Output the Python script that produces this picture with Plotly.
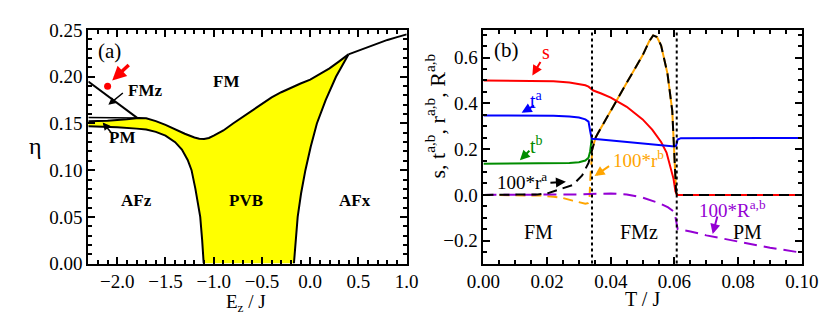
import plotly.graph_objects as go
import numpy as np

# ---------------- Panel (a) data ----------------
fm_pvb_ez = [-2.3, -2.1, -1.9, -1.78, -1.7, -1.6, -1.5, -1.4, -1.3, -1.2, -1.15, -1.1, -1.05, -1.0, -0.9,
             -0.8, -0.7, -0.6, -0.5, -0.4, -0.3, -0.2, -0.1, 0.0, 0.1, 0.2, 0.3, 0.396]
fm_pvb_eta = [0.1525, 0.153, 0.1545, 0.1558, 0.1555, 0.1525, 0.1485, 0.1435, 0.139, 0.135, 0.1337, 0.1335,
              0.1345, 0.137, 0.1425, 0.150, 0.157, 0.164, 0.171, 0.178, 0.1835, 0.1885, 0.1928, 0.197,
              0.203, 0.209, 0.2165, 0.224]
fm_afx_ez = [0.396, 0.5, 0.6, 0.7, 0.8, 0.9, 1.0]
fm_afx_eta = [0.224, 0.228, 0.232, 0.236, 0.2395, 0.2425, 0.2455]
pvb_afx_eta = [0.0, 0.025, 0.05, 0.075, 0.1, 0.125, 0.15, 0.175, 0.2, 0.224]
pvb_afx_ez = [-0.169, -0.152, -0.13, -0.095, -0.05, 0.005, 0.069, 0.16, 0.267, 0.396]
afz_pvb_ez = [-2.3, -2.0, -1.8, -1.7, -1.6, -1.5, -1.4, -1.33, -1.27, -1.23, -1.19, -1.14, -1.12, -1.104]
afz_pvb_eta = [0.147, 0.146, 0.1445, 0.1435, 0.141, 0.137, 0.130, 0.122, 0.111, 0.100, 0.080, 0.050, 0.025, 0.0]
fmz_ez = [-2.3, -2.1, -1.9, -1.79]
fmz_eta = [0.195, 0.1797, 0.164, 0.1558]
fm_pm_ez = [-2.3, -2.0, -1.79]
fm_pm_eta = [0.1565, 0.1565, 0.1558]
marker_ez = [-2.10]
marker_eta = [0.190]

# ---------------- Panel (b) data ----------------
T_s = [0, 0.015, 0.022, 0.027, 0.03, 0.032, 0.033, 0.0338, 0.0345, 0.037, 0.04, 0.045, 0.05, 0.053,
       0.0558, 0.0575, 0.0588, 0.0597, 0.0603, 0.0608, 0.1]
s_vals = [0.5, 0.5, 0.497, 0.491, 0.485, 0.479, 0.473, 0.462, 0.456, 0.443, 0.425, 0.385, 0.33, 0.285,
          0.231, 0.185, 0.122, 0.07, 0.015, 0.0, 0.0]
T_ta = [0, 0.015, 0.022, 0.027, 0.03, 0.032, 0.033, 0.0335, 0.034, 0.036, 0.04, 0.045, 0.05, 0.055,
        0.06, 0.0605, 0.061, 0.062, 0.07, 0.08, 0.09, 0.1]
ta_vals = [0.347, 0.347, 0.346, 0.343, 0.338, 0.33, 0.32, 0.28, 0.245, 0.243, 0.238, 0.232, 0.226, 0.219,
           0.212, 0.215, 0.242, 0.248, 0.249, 0.249, 0.249, 0.249]
T_tb = [0, 0.015, 0.022, 0.027, 0.03, 0.032, 0.033, 0.0335, 0.034]
tb_vals = [0.136, 0.136, 0.137, 0.139, 0.143, 0.150, 0.162, 0.19, 0.245]
T_ra = [0, 0.012, 0.017, 0.02, 0.025, 0.028, 0.031, 0.033, 0.0338, 0.0352, 0.036, 0.04, 0.045, 0.05,
        0.052, 0.0533, 0.0545, 0.0558, 0.0578, 0.0593, 0.0601, 0.0605, 0.0608, 0.1]
ra_vals = [0, 0, 0.002, 0.006, 0.028, 0.043, 0.085, 0.14, 0.18, 0.25, 0.27, 0.37, 0.49, 0.61,
           0.67, 0.697, 0.69, 0.653, 0.53, 0.367, 0.163, 0.013, 0.0, 0.0]
T_rb_fm = [0, 0.012, 0.018, 0.022, 0.025, 0.028, 0.03, 0.031, 0.032, 0.0328, 0.0333, 0.0336, 0.0342]
rb_fm_vals = [0, 0, -0.003, -0.008, -0.014, -0.025, -0.033, -0.037, -0.039, -0.036, -0.02, 0.08, 0.2]
T_R = [0, 0.02, 0.03, 0.0335, 0.036, 0.04, 0.045, 0.05, 0.055, 0.058, 0.06, 0.0605, 0.061, 0.065,
       0.07, 0.08, 0.09, 0.1]
R_vals = [0, 0, 0.002, 0.004, 0.006, 0.006, 0.002, -0.012, -0.035, -0.055, -0.075, -0.11, -0.15, -0.16,
          -0.177, -0.204, -0.231, -0.253]
T_transitions = [0.0341, 0.0607]

FONT = "'Liberation Serif', 'Times New Roman', Tinos, 'DejaVu Serif', 'Noto Serif', serif"
fig = go.Figure()

# --- panel (a) ---
poly_x = fm_pvb_ez + pvb_afx_ez[::-1] + afz_pvb_ez[::-1]
poly_y = fm_pvb_eta + pvb_afx_eta[::-1] + afz_pvb_eta[::-1]
fig.add_trace(go.Scatter(x=poly_x, y=poly_y, fill="toself", fillcolor="#ffff00", mode="none",
                         xaxis="x", yaxis="y", hoverinfo="skip"))
for xs, ys, w in [(fm_pvb_ez, fm_pvb_eta, 2), (fm_afx_ez, fm_afx_eta, 2), (pvb_afx_ez, pvb_afx_eta, 2),
                  (afz_pvb_ez, afz_pvb_eta, 2), (fmz_ez, fmz_eta, 2), (fm_pm_ez, fm_pm_eta, 1.5)]:
    fig.add_trace(go.Scatter(x=xs, y=ys, mode="lines", line=dict(color="black", width=w),
                             xaxis="x", yaxis="y"))
fig.add_trace(go.Scatter(x=marker_ez, y=marker_eta, mode="markers",
                         marker=dict(color="red", size=7), xaxis="x", yaxis="y"))

# --- panel (b) ---
ra_arr = np.array(ra_vals); Tra_arr = np.array(T_ra)
mask = Tra_arr >= 0.0338
fig.add_trace(go.Scatter(x=Tra_arr[mask], y=ra_arr[mask], mode="lines",
                         line=dict(color="orange", width=2), xaxis="x2", yaxis="y2"))
fig.add_trace(go.Scatter(x=T_rb_fm, y=rb_fm_vals, mode="lines",
                         line=dict(color="orange", width=2, dash="10px,6px"), xaxis="x2", yaxis="y2"))
fig.add_trace(go.Scatter(x=T_s, y=s_vals, mode="lines", line=dict(color="red", width=2),
                         xaxis="x2", yaxis="y2"))
fig.add_trace(go.Scatter(x=T_tb, y=tb_vals, mode="lines", line=dict(color="#008c00", width=2),
                         xaxis="x2", yaxis="y2"))
fig.add_trace(go.Scatter(x=T_ta, y=ta_vals, mode="lines", line=dict(color="#0000ff", width=2),
                         xaxis="x2", yaxis="y2"))
fig.add_trace(go.Scatter(x=T_R, y=R_vals, mode="lines",
                         line=dict(color="#9400d3", width=2, dash="13px,7px"), xaxis="x2", yaxis="y2"))
fig.add_trace(go.Scatter(x=T_ra, y=ra_vals, mode="lines",
                         line=dict(color="black", width=2, dash="10px,6px"), xaxis="x2", yaxis="y2"))

shapes = []
for t in T_transitions:
    shapes.append(dict(type="line", xref="x2", yref="y2 domain", x0=t, x1=t, y0=0, y1=1,
                       line=dict(color="black", width=2, dash="dot")))

ax_common = dict(showline=True, linewidth=2, linecolor="black", mirror="ticks", ticks="inside",
                 ticklen=7, tickwidth=2, tickcolor="black", showgrid=False, zeroline=False,
                 tickfont=dict(family=FONT, size=19, color="black"),
                 minor=dict(ticks="inside", ticklen=4, tickwidth=1.5, tickcolor="black", showgrid=False))

W, H = 831, 316
def px(x): return x / W
def py(y): return 1 - y / H

fig.update_layout(
    width=W, height=H, margin=dict(l=0, r=0, t=0, b=0),
    paper_bgcolor="white", plot_bgcolor="white", showlegend=False,
    font=dict(family=FONT, color="black"),
    xaxis=dict(ax_common, domain=[px(66), px(398)], range=[-2.3, 1.0], dtick=0.5, tick0=0,
               tickformat=".1f", minor=dict(ax_common["minor"], dtick=0.1), anchor="y"),
    yaxis=dict(ax_common, domain=[py(263), py(13)], range=[0, 0.25], dtick=0.05,
               tickformat=".2f", minor=dict(ax_common["minor"], dtick=0.01), anchor="x"),
    xaxis2=dict(ax_common, domain=[px(478), px(810)], range=[0, 0.1], dtick=0.02,
                tickformat=".2f", minor=dict(ax_common["minor"], dtick=0.005), anchor="y2"),
    yaxis2=dict(ax_common, domain=[py(263), py(13)], range=[-0.3, 0.72], dtick=0.2, tick0=0,
                tickformat=".1f", minor=dict(ax_common["minor"], dtick=0.05), anchor="x2"),
    shapes=shapes,
)

ann = []
def txt(x, y, t, size=20, color="black", bold=False, xref="x", yref="y", angle=0):
    if bold:
        t = "<b>" + t + "</b>"
    ann.append(dict(x=x, y=y, xref=xref, yref=yref, text=t, showarrow=False, textangle=angle,
                    font=dict(family=FONT, size=size, color=color), xanchor="center", yanchor="middle"))

def arrow(x, y, ax, ay, color="black", width=1.5, xref="x", yref="y", size=1.0):
    ann.append(dict(x=x, y=y, xref=xref, yref=yref, ax=ax, ay=ay, text="", showarrow=True,
                    arrowhead=2, arrowsize=size, arrowwidth=width, arrowcolor=color))

# panel (a) labels
txt(-2.082, 0.228, "(a)", size=21)
txt(-0.873, 0.195, "FM", size=17, bold=True)
txt(-1.715, 0.185, "FMz", size=17, bold=True)
txt(-1.953, 0.135, "PM", size=17, bold=True)
txt(-1.804, 0.068, "AFz", size=17, bold=True)
txt(-0.665, 0.068, "PVB", size=17, bold=True)
txt(0.465, 0.068, "AFx", size=17, bold=True)
arrow(-2.052, 0.196, 18, -17, color="red", width=3.5, size=0.8)
arrow(-2.092, 0.170, 16, -13, width=1.5)
arrow(-2.151, 0.151, 11, 13, width=1.5)

# panel (b) labels
txt(0.00723, 0.633, "(b)", size=21, xref="x2", yref="y2")
txt(0.0196, 0.625, "s", size=20, color="red", xref="x2", yref="y2")
arrow(0.01536, 0.522, 9, -15, color="red", width=2, xref="x2", yref="y2")
txt(0.0166, 0.416, "t<sup>a</sup>", size=20, color="#0000ff", xref="x2", yref="y2")
arrow(0.012, 0.359, 14, -8, color="#0000ff", width=2, xref="x2", yref="y2")
txt(0.0166, 0.216, "t<sup>b</sup>", size=20, color="#008c00", xref="x2", yref="y2")
arrow(0.01145, 0.151, 11, -11, color="#008c00", width=2, xref="x2", yref="y2")
txt(0.012, 0.061, "100*r<sup>a</sup>", size=19, color="black", xref="x2", yref="y2")
arrow(0.0259, 0.057, -17, 1, color="black", width=2, xref="x2", yref="y2")
txt(0.0488, 0.155, "100*r<sup>b</sup>", size=19, color="orange", xref="x2", yref="y2")
arrow(0.0349, 0.082, 16, -11, color="orange", width=2, xref="x2", yref="y2")
txt(0.0783, -0.061, "100*R<sup>a,b</sup>", size=19, color="#9400d3", xref="x2", yref="y2")
arrow(0.072, -0.171, 5, -19, color="#9400d3", width=2, xref="x2", yref="y2")
txt(0.0172, -0.163, "FM", size=20, xref="x2", yref="y2")
txt(0.0488, -0.163, "FMz", size=20, xref="x2", yref="y2")
txt(0.0828, -0.163, "PM", size=20, xref="x2", yref="y2")

# axis titles
txt(px(11), py(137), "η", size=24, xref="paper", yref="paper")
txt(px(230), py(305), "E<sub>z</sub> / J", size=19, xref="paper", yref="paper")
txt(px(644), py(301), "T / J", size=20, xref="paper", yref="paper")
txt(px(428), py(105), "s, t<sup>a,b</sup>, r<sup>a,b</sup>, R<sup>a,b</sup>", size=22,
    xref="paper", yref="paper", angle=-90)

fig.update_layout(annotations=ann)
fig.write_html("out.html")
